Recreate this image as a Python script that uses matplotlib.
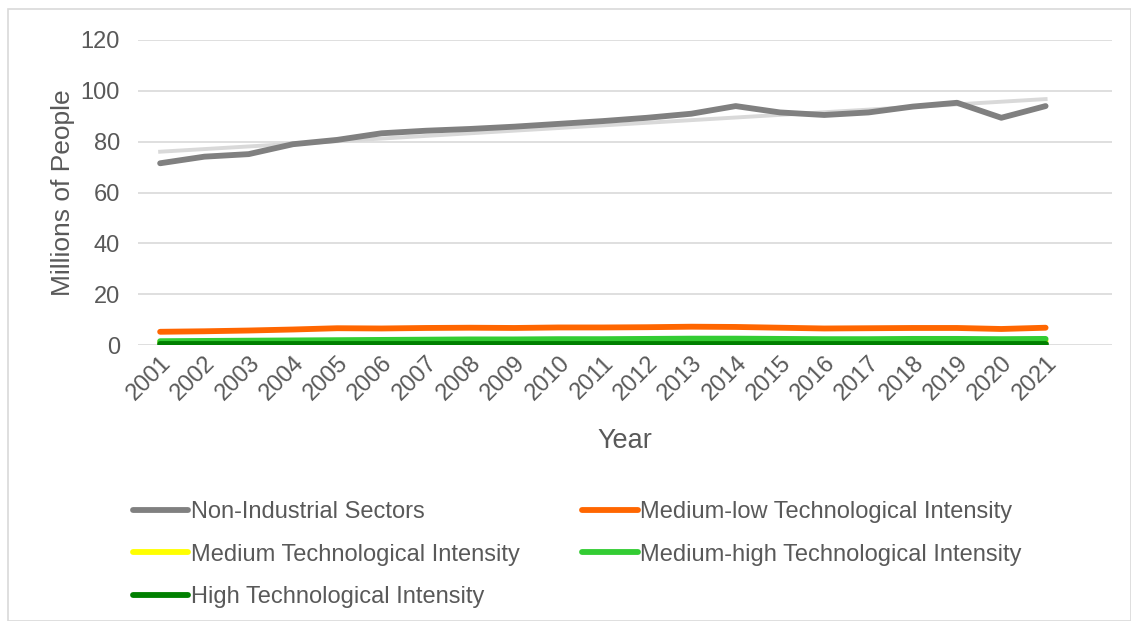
import matplotlib.pyplot as plt
import numpy as np
from matplotlib.patches import Rectangle

plt.rcParams['font.family'] = ['Liberation Sans', 'DejaVu Sans']

years = [str(y) for y in range(2001, 2022)]

non_industrial = [71.5, 74.1, 75.1, 79.0, 80.7, 83.3, 84.3, 85.0, 85.9, 87.0, 88.1,
                  89.4, 91.0, 94.0, 91.5, 90.5, 91.5, 93.8, 95.3, 89.4, 94.0]
medium_low = [5.2, 5.4, 5.7, 6.1, 6.6, 6.5, 6.7, 6.8, 6.7, 6.9, 6.9,
              7.0, 7.2, 7.1, 6.8, 6.5, 6.6, 6.7, 6.7, 6.3, 6.8]
medium = [1.2, 1.2, 1.3, 1.3, 1.4, 1.4, 1.5, 1.5, 1.5, 1.5, 1.6,
          1.6, 1.6, 1.6, 1.6, 1.5, 1.6, 1.6, 1.7, 1.6, 1.7]
medium_high = [1.5, 1.6, 1.7, 1.8, 1.9, 2.0, 2.1, 2.2, 2.2, 2.3, 2.3,
               2.4, 2.5, 2.5, 2.4, 2.3, 2.3, 2.4, 2.4, 2.3, 2.4]
high = [0.3, 0.3, 0.3, 0.3, 0.3, 0.3, 0.3, 0.3, 0.3, 0.3, 0.3,
        0.3, 0.3, 0.3, 0.3, 0.3, 0.3, 0.3, 0.3, 0.3, 0.3]

txt = '#595959'
x = np.arange(len(years))

fig = plt.figure(figsize=(11.31, 6.21), dpi=100)
ax = fig.add_axes([138/1131, 1-345/621, (1112-138)/1131, (345-40)/621])

# linear trend of the non-industrial series
coef = np.polyfit(x, non_industrial, 1)
ax.plot(x, np.polyval(coef, x), color='#d9d9d9', lw=2.8, zorder=2)

lw = 4.2
l1, = ax.plot(x, non_industrial, color='#808080', lw=lw, solid_capstyle='round', zorder=3)
l2, = ax.plot(x, medium_low, color='#FF6600', lw=lw, solid_capstyle='round', zorder=3)
l3, = ax.plot(x, medium, color='#FFFF00', lw=lw, solid_capstyle='round', zorder=3)
l4, = ax.plot(x, medium_high, color='#33CC33', lw=lw, solid_capstyle='round', zorder=3)
l5, = ax.plot(x, high, color='#008000', lw=lw, solid_capstyle='round', zorder=3)

ax.set_xlim(-0.5, len(years) + 0.5)
ax.set_ylim(0, 120)
ax.set_yticks(range(0, 121, 20))
ax.set_xticks(x)
ax.set_xticklabels(years, rotation=45, ha='right', rotation_mode='anchor')
ax.grid(axis='y', color='#d9d9d9', lw=1.2)
ax.set_axisbelow(True)
for s in ax.spines.values():
    s.set_visible(False)
ax.tick_params(length=0, labelsize=17, colors=txt)
ax.tick_params(axis='x', pad=5)
ax.tick_params(axis='y', pad=13)
ax.set_xlabel('Year', fontsize=19.5, color=txt, labelpad=17)
ax.set_ylabel('Millions of People', fontsize=19, color=txt, labelpad=4)

fig.legend([l1, l3, l5, l2, l4],
           ['Non-Industrial Sectors', 'Medium Technological Intensity',
            'High Technological Intensity', 'Medium-low Technological Intensity',
            'Medium-high Technological Intensity'],
           ncol=2, loc='upper left', bbox_to_anchor=(121/1131, 1-489/621),
           frameon=False, fontsize=17, labelcolor=txt, handlelength=2.35,
           handletextpad=0.1, columnspacing=2.65, labelspacing=0.88, borderpad=0)

fig.patches.append(Rectangle((8/1131, 0), 1-8/1131, 1-9/621, transform=fig.transFigure,
                             fill=False, edgecolor='#d9d9d9', lw=1.2))

fig.savefig('out.png', dpi=100)
